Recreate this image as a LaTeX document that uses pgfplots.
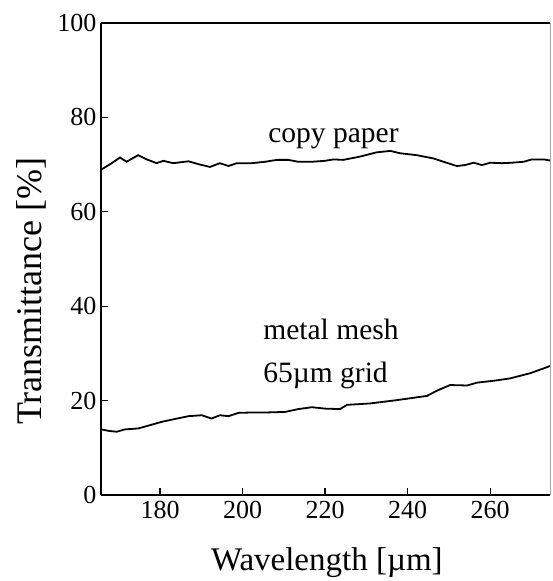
\documentclass[border=0pt]{standalone}
\usepackage{fontspec}
\setmainfont{Liberation Serif}
\usepackage{pgfplots}
\pgfplotsset{compat=1.18}
\begin{document}
\begin{tikzpicture}
\begin{axis}[
  name=ax,
  scale only axis,
  width=449pt, height=472pt,
  xmin=165.7, xmax=274.5,
  ymin=0, ymax=100,
  axis x line=box,
  axis y line=left,
  axis line style={line width=1.4pt, black, -},
  xtick={180,200,220,240,260},
  ytick={0,20,40,60,80,100},
  tick align=inside,
  major tick length=7pt,
  tick style={line width=1.3pt, black},
  xtick pos=bottom, ytick pos=left,
  /pgf/number format/assume math mode=true,
  ticklabel style={font=\fontsize{26}{30}\selectfont},
  yticklabel style={xshift=-1pt},
  xticklabel style={yshift=-3pt},
  xlabel={Wavelength [µm]},
  ylabel={Transmittance [\%]},
  xlabel style={font=\fontsize{33}{38}\selectfont, at={(axis description cs:0.503,-0.159)}, anchor=base},
  ylabel style={font=\fontsize{36}{40}\selectfont, at={(axis description cs:-0.133,0.432)}, anchor=base},
  clip=true,
]
\addplot[black, line width=1.8pt] coordinates {
(165.7,68.9) (168.3,70.3) (170.3,71.5) (171.9,70.6) (174.7,72.0) (176.8,71.1)
(179.2,70.3) (180.8,70.8) (183.2,70.3) (186.9,70.7) (189.3,70.1) (192.1,69.5)
(194.5,70.3) (196.6,69.7) (198.6,70.3) (202.2,70.3) (205.5,70.6) (208.3,71.0)
(211.1,71.0) (213.5,70.6) (216.8,70.6) (220.0,70.8) (222.0,71.1) (224.4,71.0)
(228.5,71.7) (232.5,72.6) (235.8,72.9) (238.2,72.4) (242.2,72.0) (246.3,71.3)
(248.7,70.6) (251.9,69.7) (253.9,69.9) (256.0,70.4) (258.0,69.9) (260.0,70.4)
(262.8,70.3) (265.3,70.4) (268.1,70.6) (270.1,71.1) (273.0,71.1) (275.0,70.8)
};
\addplot[black, line width=1.8pt] coordinates {
(165.7,13.9) (167.5,13.6) (169.5,13.4) (171.5,13.9) (174.7,14.1) (177.2,14.7)
(180.4,15.5) (183.6,16.1) (186.9,16.7) (190.1,16.9) (192.5,16.2) (194.5,16.9)
(196.6,16.7) (199.0,17.4) (203.0,17.5) (206.3,17.5) (210.3,17.6) (213.5,18.2)
(216.8,18.6) (220.0,18.3) (223.6,18.2) (225.3,19.1) (230.9,19.4) (237.4,20.1)
(244.7,21.0) (247.1,22.1) (250.3,23.3) (254.4,23.2) (256.8,23.8) (260.8,24.2)
(264.8,24.7) (269.7,25.8) (272.9,26.8) (275.0,27.5)
};
\node[anchor=base west, font=\fontsize{29.5}{34}\selectfont, inner sep=0pt] at (axis cs:206.2,74.6) {copy paper};
\node[anchor=base west, font=\fontsize{29.5}{34}\selectfont, inner sep=0pt] at (axis cs:205.0,33.05) {metal mesh};
\node[anchor=base west, font=\fontsize{29.5}{34}\selectfont, inner sep=0pt] at (axis cs:205.0,23.9) {65µm grid};
\end{axis}
\draw[black!35, line width=0.8pt] (ax.south east) -- (ax.north east);
\pgfresetboundingbox
\path (ax.south west) ++(-101pt,-86pt) (ax.north east) ++(2pt,23pt);
\end{tikzpicture}
\end{document}
